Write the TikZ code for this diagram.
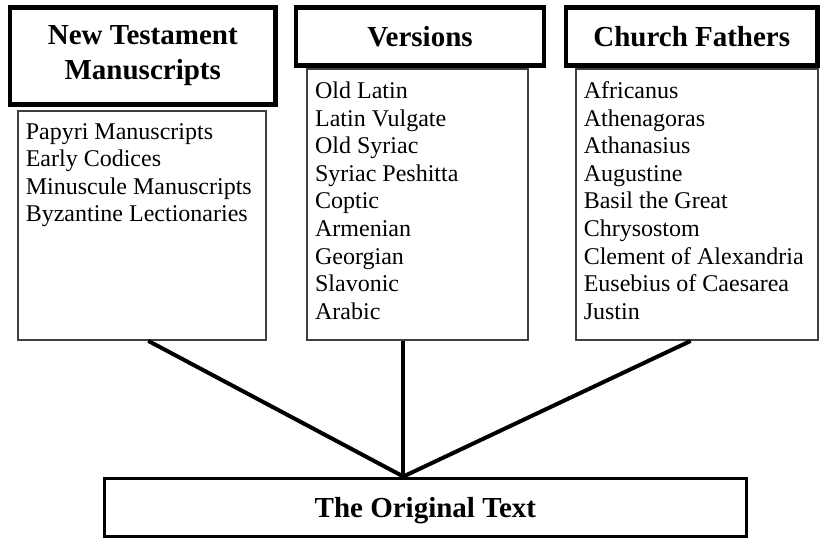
\documentclass[tikz,border=0pt]{standalone}
\usepackage{fontspec}
\setmainfont{Liberation Serif}
\begin{document}
\begin{tikzpicture}[x=1pt,y=-1pt,
  headbox/.style={draw=black, line width=4.5pt, align=center, inner sep=0pt,
    font=\fontsize{29}{35}\selectfont\bfseries},
  listbox/.style={draw=black!75, line width=1.8pt, inner sep=0pt},
  listtext/.style={anchor=base west, inner sep=0pt,
    font=\fontsize{24}{27.6}\selectfont},
  origbox/.style={draw=black, line width=3pt, inner sep=0pt, text depth=0pt,
    font=\fontsize{29}{35}\selectfont\bfseries},
  conn/.style={draw=black, line width=4pt}]
\useasboundingbox (0,0) rectangle (820,538);

% headers
\node[headbox, minimum width=265.5pt, minimum height=97pt] (h1) at (142.75,56)
  {New Testament\\Manuscripts};
\node[headbox, minimum width=248pt, minimum height=58pt] (h2) at (420,36.5) {Versions};
\node[headbox, minimum width=251.5pt, minimum height=58pt] (h3) at (691.75,36.5) {Church Fathers};

% list boxes
\node[listbox, minimum width=248pt, minimum height=229pt] (l1) at (142,225.5) {};
\node[listbox, minimum width=220.4pt, minimum height=270.7pt] (l2) at (417.5,204.65) {};
\node[listbox, minimum width=242pt, minimum height=270.7pt] (l3) at (697,204.65) {};

\node[listtext] (t1) at ([xshift=8.5pt,yshift=-29pt]l1.north west)
  {\parbox[t]{240pt}{Papyri Manuscripts\\Early Codices\\Minuscule Manuscripts\\Byzantine Lectionaries}};
\node[listtext] (t2) at ([xshift=8.5pt,yshift=-30pt]l2.north west)
  {\parbox[t]{210pt}{Old Latin\\Latin Vulgate\\Old Syriac\\Syriac Peshitta\\Coptic\\Armenian\\Georgian\\Slavonic\\Arabic}};
\node[listtext] (t3) at ([xshift=8.5pt,yshift=-30pt]l3.north west)
  {\parbox[t]{235pt}{Africanus\\Athenagoras\\Athanasius\\Augustine\\Basil the Great\\Chrysostom\\Clement of Alexandria\\Eusebius of Caesarea\\Justin}};

% bottom box
\node[origbox, minimum width=641.3pt, minimum height=58pt] (orig) at (425.35,507) {The Original Text};

\coordinate (hub) at ([xshift=-22pt]orig.north);
\coordinate (s1) at ([xshift=6.3pt]l1.south);
\coordinate (s2) at (l2.south -| hub);
\coordinate (s3) at ([xshift=-6.3pt]l3.south);

\draw[conn] (s1) -- (hub);
\draw[conn] (s2) -- (hub);
\draw[conn] (s3) -- (hub);
\end{tikzpicture}
\end{document}
